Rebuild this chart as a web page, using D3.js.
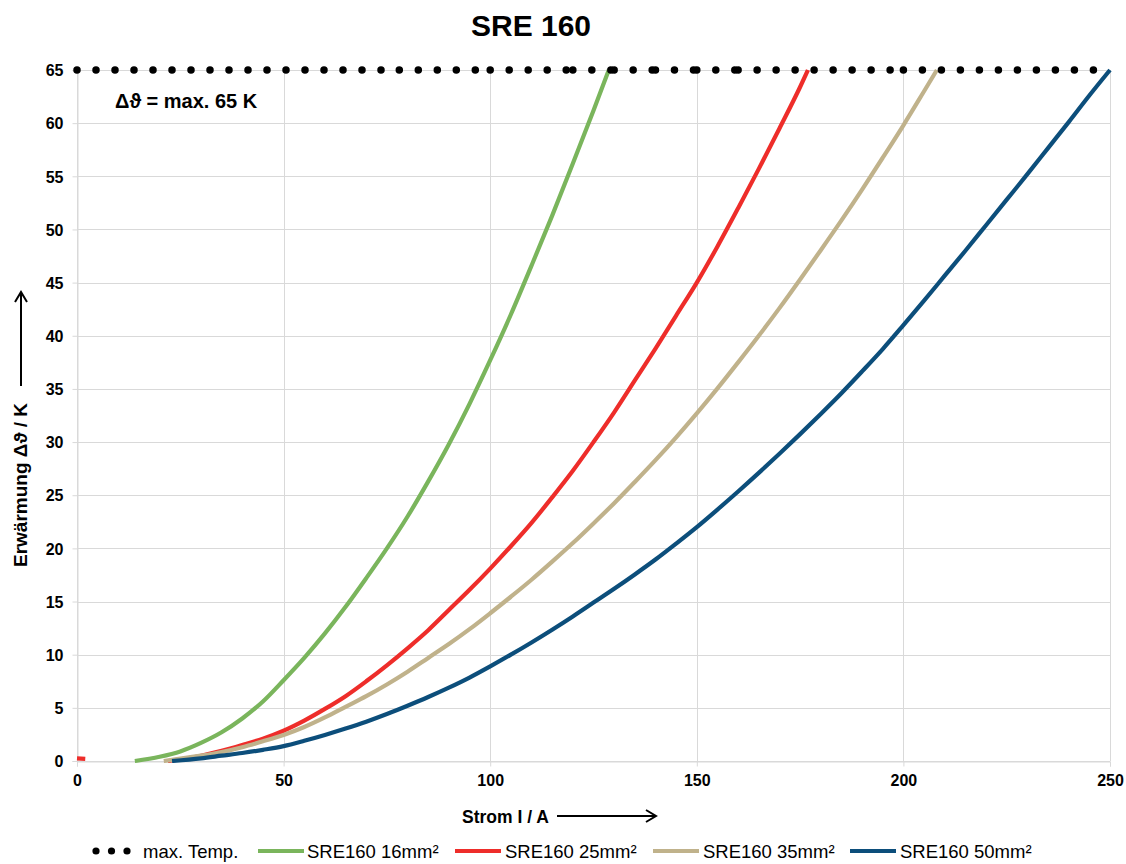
<!DOCTYPE html>
<html>
<head>
<meta charset="utf-8">
<script src="https://cdn.jsdelivr.net/npm/d3@7"></script>
<style>
  html, body { margin: 0; padding: 0; background: #fff; }
  svg { display: block; font-family: "Liberation Sans", Arial, sans-serif; }
</style>
</head>
<body>
<svg id="chart" width="1126" height="864"></svg>
<script>
// ---------- data ----------
const title = "SRE 160";
const xTickValues = [0, 50, 100, 150, 200, 250];
const yTickValues = [0, 5, 10, 15, 20, 25, 30, 35, 40, 45, 50, 55, 60, 65];

const seriesNames = ["max. Temp.", "SRE160 16mm²", "SRE160 25mm²", "SRE160 35mm²", "SRE160 50mm²"];
const seriesColors = ["#000000", "#7ab55c", "#ee2d2a", "#c0b28b", "#0c4e7b"];

// max. Temp. (dotted line at 65 K, drawn in segments)
const maxTempI  = [0, 78, 100, 120, 130, 140, 150, 160, 200, 250];
const maxTempDT = [65, 65, 65, 65, 65, 65, 65, 65, 65, 65];

// SRE160 16mm²
const i16  = [14, 20, 25, 30, 35, 40, 45, 50, 55, 60, 65, 70, 75, 80, 85, 90, 95, 100, 105, 110, 115, 120, 125, 128.7];
const dT16 = [0, 0.4, 0.9, 1.7, 2.7, 4.0, 5.6, 7.6, 9.7, 12.0, 14.5, 17.2, 20.0, 23.0, 26.3, 29.8, 33.6, 37.7, 42.0, 46.6, 51.3, 56.2, 61.2, 65];

// SRE160 25mm²  (small isolated segment at origin, then the curve)
const i25  = [0, 2, null, 22, 30, 35, 40, 45, 50, 55, 60, 65, 70, 75, 80, 85, 90, 95, 100, 105, 110, 115, 120, 125, 130, 135, 140, 145, 150, 155, 160, 165, 170, 175, 176.9];
const dT25 = [0.25, 0.2, null, 0, 0.5, 0.95, 1.5, 2.1, 2.85, 3.8, 4.9, 6.1, 7.5, 9.0, 10.6, 12.3, 14.2, 16.1, 18.1, 20.2, 22.4, 24.8, 27.3, 30.0, 32.8, 35.8, 38.8, 41.9, 45.0, 48.4, 52.0, 55.7, 59.5, 63.4, 65];

// SRE160 35mm²
const i35  = [21, 30, 35, 40, 45, 50, 55, 60, 65, 70, 75, 80, 85, 90, 95, 100, 105, 110, 115, 120, 125, 130, 135, 140, 145, 150, 155, 160, 165, 170, 175, 180, 185, 190, 195, 200, 205, 208.1];
const dT35 = [0, 0.5, 0.85, 1.3, 1.85, 2.45, 3.2, 4.1, 5.1, 6.1, 7.2, 8.4, 9.7, 11.0, 12.4, 13.9, 15.45, 17.05, 18.75, 20.5, 22.35, 24.25, 26.25, 28.3, 30.45, 32.7, 35.05, 37.5, 40.0, 42.6, 45.3, 48.05, 50.85, 53.75, 56.75, 59.8, 63.0, 65];

// SRE160 50mm²
const i50  = [23, 30, 35, 40, 45, 50, 55, 60, 65, 70, 75, 80, 85, 90, 95, 100, 105, 110, 115, 120, 125, 130, 135, 140, 145, 150, 155, 160, 165, 170, 175, 180, 185, 190, 195, 200, 205, 210, 215, 220, 225, 230, 235, 240, 245, 250];
const dT50 = [0, 0.25, 0.5, 0.75, 1.05, 1.4, 1.9, 2.45, 3.05, 3.7, 4.42, 5.2, 6.02, 6.9, 7.85, 8.9, 10.0, 11.15, 12.35, 13.6, 14.9, 16.2, 17.55, 18.95, 20.45, 22.0, 23.65, 25.35, 27.1, 28.9, 30.75, 32.65, 34.6, 36.65, 38.75, 41.0, 43.3, 45.65, 48.0, 50.4, 52.8, 55.2, 57.65, 60.1, 62.6, 65];

// ---------- layout ----------
const W = 1126, H = 864;
const plot = { left: 77, right: 1110, top: 70, bottom: 761 };
const FONT = '"Liberation Sans", Arial, sans-serif';

const svg = d3.select("#chart");
const x = d3.scaleLinear().domain([0, 250]).range([plot.left, plot.right]);
const y = d3.scaleLinear().domain([0, 65]).range([plot.bottom, plot.top]);

// gridlines
const grid = svg.append("g").attr("stroke", "#d9d9d9").attr("stroke-width", 1);
grid.selectAll("line.h").data(yTickValues).join("line")
  .attr("x1", plot.left).attr("x2", plot.right)
  .attr("y1", d => Math.round(y(d)) + 0.5).attr("y2", d => Math.round(y(d)) + 0.5);
grid.selectAll("line.v").data(xTickValues).join("line")
  .attr("y1", plot.top).attr("y2", plot.bottom)
  .attr("x1", d => Math.round(x(d)) + 0.5).attr("x2", d => Math.round(x(d)) + 0.5);

// axes
const yAxis = d3.axisLeft(y).tickValues(yTickValues).tickSize(5).tickPadding(9).tickFormat(d3.format("d"));
const gy = svg.append("g").attr("transform", `translate(${plot.left + 0.5},0)`).call(yAxis);
const xAxis = d3.axisBottom(x).tickValues(xTickValues).tickSize(5).tickPadding(8).tickFormat(d3.format("d"));
const gx = svg.append("g").attr("transform", `translate(0,${plot.bottom + 0.5})`).call(xAxis);
[gx, gy].forEach(g => {
  g.select(".domain").attr("stroke", "#d9d9d9");
  g.selectAll(".tick line").attr("stroke", "#d9d9d9");
  g.selectAll(".tick text").attr("fill", "#000").attr("font-size", 16).attr("font-weight", "bold").attr("font-family", FONT);
});
gy.selectAll(".tick text").attr("dy", "0.36em");

// series lines
const line = d3.line()
  .defined(d => d[0] !== null && d[1] !== null)
  .x(d => x(d[0])).y(d => y(d[1]))
  .curve(d3.curveMonotoneX);

const zip = (a, b) => a.map((v, i) => [v, b[i]]);
const curves = [zip(i16, dT16), zip(i25, dT25), zip(i35, dT35), zip(i50, dT50)];

svg.append("clipPath").attr("id", "pc").append("rect")
  .attr("x", plot.left - 2).attr("y", plot.top - 3).attr("width", plot.right - plot.left + 4).attr("height", plot.bottom - plot.top + 5);

const gLines = svg.append("g").attr("clip-path", "url(#pc)");
curves.forEach((c, k) => {
  gLines.append("path").datum(c)
    .attr("fill", "none")
    .attr("stroke", seriesColors[k + 1])
    .attr("stroke-width", 4.2)
    .attr("stroke-linejoin", "round")
    .attr("stroke-linecap", "butt")
    .attr("d", line);
});

// max. Temp. dotted line (segments, dash restarts per segment)
const mt = zip(maxTempI, maxTempDT);
const gDots = svg.append("g");
for (let k = 0; k < mt.length - 1; k++) {
  gDots.append("path")
    .datum([mt[k], mt[k + 1]])
    .attr("fill", "none")
    .attr("stroke", seriesColors[0])
    .attr("stroke-width", 7.5)
    .attr("stroke-linecap", "round")
    .attr("stroke-dasharray", "0,19")
    .attr("d", d3.line().x(d => x(d[0])).y(d => y(d[1])));
}

// title
svg.append("text").attr("x", 531).attr("y", 36).attr("text-anchor", "middle")
  .attr("font-family", FONT).attr("font-size", 30).attr("font-weight", "bold").text(title);

// annotation
svg.append("text").attr("x", 115).attr("y", 108)
  .attr("font-family", FONT).attr("font-size", 20).attr("font-weight", "bold").text("Δϑ = max. 65 K");

// y axis title with arrow
const yt = svg.append("g").attr("transform", "translate(27,567) rotate(-90)");
yt.append("text").attr("x", 0).attr("y", 0)
  .attr("font-family", FONT).attr("font-size", 19).attr("font-weight", "bold").text("Erwärmung Δϑ / K");
svg.append("line").attr("x1", 21).attr("x2", 21).attr("y1", 386).attr("y2", 292)
  .attr("stroke", "#000").attr("stroke-width", 2);
svg.append("path").attr("d", "M15,302 L21,292 L27,302").attr("fill", "none").attr("stroke", "#000").attr("stroke-width", 2);

// x axis title with arrow
svg.append("text").attr("x", 462).attr("y", 823)
  .attr("font-family", FONT).attr("font-size", 17.5).attr("font-weight", "bold").text("Strom I / A");
svg.append("line").attr("x1", 557).attr("x2", 656).attr("y1", 816).attr("y2", 816)
  .attr("stroke", "#000").attr("stroke-width", 2);
svg.append("path").attr("d", "M646,810 L656,816 L646,822").attr("fill", "none").attr("stroke", "#000").attr("stroke-width", 2);

// legend
const legY = 851;
const legendItems = [
  { sx: 93,  tx: 143 },
  { sx: 258, tx: 307 },
  { sx: 455, tx: 505 },
  { sx: 653, tx: 703 },
  { sx: 850, tx: 900 }
];
const gl = svg.append("g");
legendItems.forEach((it, k) => {
  if (k === 0) {
    [0, 1, 2].forEach(j => gl.append("circle").attr("cx", it.sx + 3 + j * 15.5).attr("cy", legY).attr("r", 3.6).attr("fill", "#000"));
  } else {
    gl.append("line").attr("x1", it.sx).attr("x2", it.sx + 46).attr("y1", legY).attr("y2", legY)
      .attr("stroke", seriesColors[k]).attr("stroke-width", 4.2);
  }
  gl.append("text").attr("x", it.tx).attr("y", legY + 6.5)
    .attr("font-family", FONT).attr("font-size", 18.5).attr("fill", "#000").text(seriesNames[k]);
});
</script>
</body>
</html>
